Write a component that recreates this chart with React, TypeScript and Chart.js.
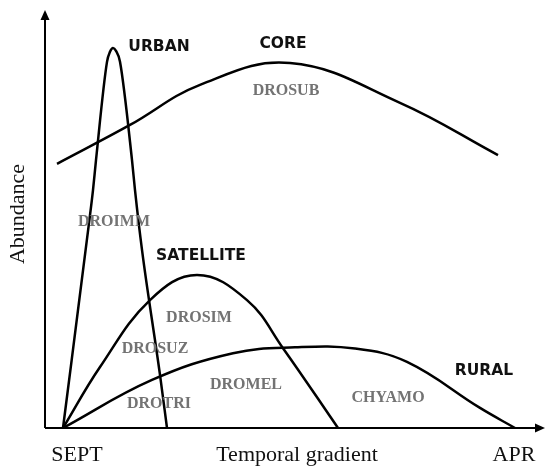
import { useEffect, useRef } from "react";
import { Chart, registerables } from "chart.js";
Chart.register(...registerables);

// Abstract units: time 0..100 (SEPT -> APR), abundance 0..100
const urbanX = [3.6, 8.8, 9.6, 10.2, 12.4, 13.0, 13.6, 14.2, 15.0, 17.4, 18.0, 19.4, 23.0, 24.4];
const urbanY = [0, 49.0, 56.9, 64.1, 87.6, 90.0, 90.9, 90.2, 87.6, 64.1, 56.9, 42.6, 12.7, 0];

const coreX = [2.4, 17.0, 31.0, 49.0, 71.0, 90.6];
const coreY = [63.2, 72.5, 82.1, 87.3, 77.8, 65.3];

const satelliteX = [3.6, 11.0, 21.0, 30.4, 40.4, 47.6, 58.6];
const satelliteY = [0, 14.6, 30.6, 36.6, 30.6, 19.1, 0];

const ruralX = [3.6, 21.4, 37.6, 50.0, 62.0, 72.4, 87.0, 94.0];
const ruralY = [0, 11.5, 17.9, 19.3, 19.0, 15.8, 4.8, 0];

const groupNames = ["URBAN", "CORE", "SATELLITE", "RURAL"];
const groupLabelX = [22.8, 47.6, 31.2, 87.8];
const groupLabelY = [91.1, 91.9, 41.1, 13.6];

const speciesNames = ["DROSUB", "DROIMM", "DROSIM", "DROSUZ", "DROMEL", "DROTRI", "CHYAMO"];
const speciesX = [48.2, 13.8, 30.8, 22.0, 40.2, 22.8, 68.6];
const speciesY = [80.6, 49.3, 26.3, 18.9, 10.3, 5.7, 7.2];

const xTickLabels = ["SEPT", "Temporal gradient", "APR"];
const xTickPos = [6.4, 50.4, 93.8];
const yTitle = "Abundance";
const yTitlePos = 51.2;

const toPts = (xs: number[], ys: number[]) => xs.map((x, i) => ({ x, y: ys[i] }));

export default function App() {
  const ref = useRef<HTMLCanvasElement | null>(null);
  useEffect(() => {
    if (!ref.current) return;
    const annot = {
      id: "annot",
      afterDraw(chart: any) {
        const { ctx, chartArea, scales } = chart;
        const xs = scales.x;
        const ys = scales.y;
        const L = chartArea.left, R = chartArea.right, T = chartArea.top, B = chartArea.bottom;
        ctx.save();
        ctx.strokeStyle = "#000";
        ctx.fillStyle = "#000";
        ctx.lineWidth = 2;
        ctx.beginPath();
        ctx.moveTo(L, B);
        ctx.lineTo(R - 6, B);
        ctx.moveTo(L, B);
        ctx.lineTo(L, T + 6);
        ctx.stroke();
        ctx.beginPath();
        ctx.moveTo(R, B);
        ctx.lineTo(R - 10, B - 4.5);
        ctx.lineTo(R - 10, B + 4.5);
        ctx.closePath();
        ctx.fill();
        ctx.beginPath();
        ctx.moveTo(L, T);
        ctx.lineTo(L - 4.5, T + 10);
        ctx.lineTo(L + 4.5, T + 10);
        ctx.closePath();
        ctx.fill();
        ctx.textAlign = "center";
        ctx.textBaseline = "middle";
        ctx.font = "bold 15.5px 'DejaVu Sans'";
        ctx.fillStyle = "#111";
        groupNames.forEach((n, i) => {
          ctx.fillText(n, xs.getPixelForValue(groupLabelX[i]), ys.getPixelForValue(groupLabelY[i]));
        });
        ctx.font = "bold 16px 'Liberation Serif'";
        ctx.fillStyle = "#737373";
        speciesNames.forEach((n, i) => {
          ctx.fillText(n, xs.getPixelForValue(speciesX[i]), ys.getPixelForValue(speciesY[i]));
        });
        ctx.font = "22px 'Liberation Serif'";
        ctx.fillStyle = "#111";
        xTickLabels.forEach((t, i) => {
          ctx.fillText(t, xs.getPixelForValue(xTickPos[i]), B + 27);
        });
        ctx.translate(18, ys.getPixelForValue(yTitlePos));
        ctx.rotate(-Math.PI / 2);
        ctx.fillText(yTitle, 0, 0);
        ctx.restore();
      },
    };
    const mk = (d: { x: number; y: number }[], mono: boolean) => ({
      data: d,
      showLine: true,
      borderColor: "#000",
      borderWidth: 2.5,
      pointRadius: 0,
      tension: mono ? 0 : 0.4,
      cubicInterpolationMode: mono ? ("monotone" as const) : ("default" as const),
      clip: false as any,
    });
    const chart = new Chart(ref.current, {
      type: "scatter",
      data: {
        datasets: [
          mk(toPts(urbanX, urbanY), true),
          mk(toPts(coreX, coreY), false),
          mk(toPts(satelliteX, satelliteY), false),
          mk(toPts(ruralX, ruralY), false),
        ],
      },
      options: {
        animation: false,
        responsive: false,
        layout: { padding: { left: 45, right: 0, top: 10, bottom: 40 } },
        plugins: { legend: { display: false }, tooltip: { enabled: false } },
        scales: {
          x: { type: "linear", min: 0, max: 100, display: false },
          y: { type: "linear", min: 0, max: 100, display: false },
        },
      },
      plugins: [annot],
    });
    return () => chart.destroy();
  }, []);
  return (
    <div style={{ position: "absolute", left: 0, top: 0, width: 545, height: 468, background: "#fff" }}>
      <canvas ref={ref} width={545} height={468} />
    </div>
  );
}
